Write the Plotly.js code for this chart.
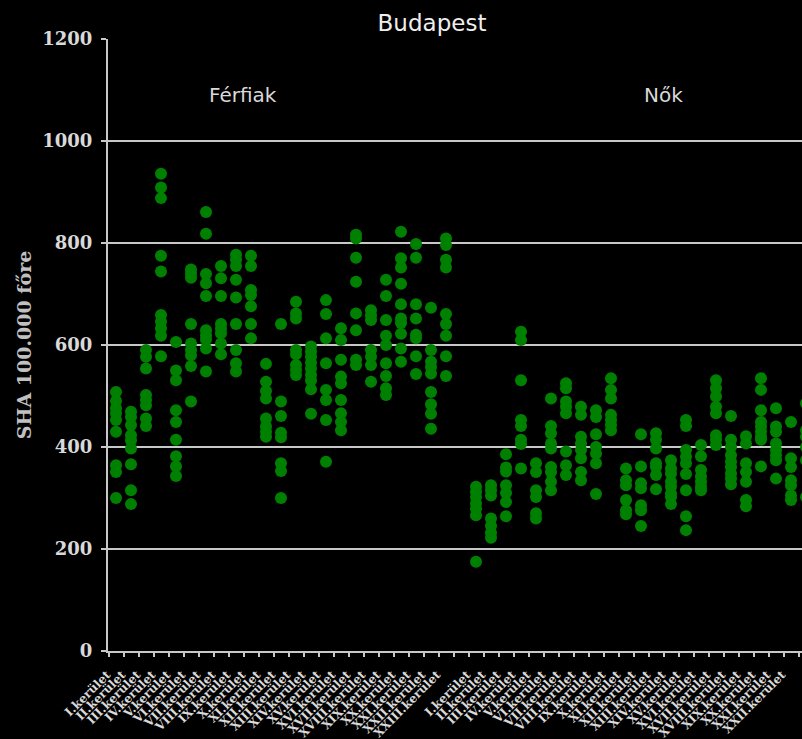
<!DOCTYPE html>
<html>
<head>
<meta charset="utf-8">
<script src="https://cdn.plot.ly/plotly-3.0.1.min.js"></script>
<style>
html,body{margin:0;padding:0;background:#000;}
#chart{width:802px;height:739px;}
</style>
</head>
<body>
<div id="chart"></div>
<script>
const districts = ['I.kerület','II.kerület','III.kerület','IV.kerület','V.kerület','VI.kerület','VII.kerület','VIII.kerület','IX.kerület','X.kerület','XI.kerület','XII.kerület','XIII.kerület','XIV.kerület','XV.kerület','XVI.kerület','XVII.kerület','XVIII.kerület','XIX.kerület','XX.kerület','XXI.kerület','XXII.kerület','XXIII.kerület'];

// Férfiak (men), values per district
const ferfiak = [
  [508, 490, 476, 466, 453, 430, 364, 351, 300],
  [469, 459, 443, 423, 413, 397, 366, 315, 288],
  [590, 577, 554, 502, 492, 482, 456, 441],
  [936, 909, 888, 775, 744, 659, 646, 633, 618, 578],
  [606, 550, 531, 472, 449, 414, 382, 362, 343],
  [748, 740, 732, 641, 603, 590, 580, 559, 489],
  [861, 818, 739, 721, 696, 629, 619, 611, 593, 548],
  [755, 731, 696, 641, 632, 623, 603, 582],
  [777, 767, 755, 728, 693, 641, 590, 564, 548],
  [775, 755, 708, 698, 676, 641, 613],
  [563, 528, 510, 495, 456, 440, 430, 420],
  [641, 489, 461, 428, 419, 368, 353, 300],
  [685, 662, 652, 590, 582, 561, 551, 541],
  [597, 587, 577, 565, 554, 541, 531, 513, 465],
  [688, 661, 613, 564, 512, 492, 453, 371],
  [633, 610, 571, 538, 525, 492, 466, 449, 433],
  [816, 809, 771, 724, 662, 629, 571, 561],
  [668, 658, 649, 590, 577, 561, 528],
  [728, 696, 649, 618, 600, 564, 539, 515, 502],
  [822, 770, 752, 720, 680, 652, 643, 622, 593, 567],
  [798, 771, 680, 652, 620, 613, 578, 543],
  [673, 590, 567, 557, 544, 508, 484, 465, 436],
  [809, 796, 767, 752, 661, 641, 618, 578, 539]
];

// Nők (women), values per district
const nok = [
  [322, 312, 302, 289, 279, 266, 175],
  [325, 315, 305, 260, 245, 232, 222],
  [386, 360, 352, 325, 310, 292, 264],
  [626, 610, 531, 453, 441, 414, 406, 358],
  [368, 351, 315, 302, 270, 260],
  [495, 441, 427, 407, 397, 361, 351, 332, 315],
  [525, 515, 489, 479, 466, 391, 364, 345],
  [479, 463, 420, 407, 394, 378, 351, 335],
  [472, 459, 425, 400, 387, 368, 308],
  [535, 512, 495, 463, 453, 443, 433],
  [358, 335, 325, 296, 276, 268],
  [425, 362, 329, 319, 286, 276, 245],
  [427, 414, 397, 368, 361, 345, 317],
  [374, 358, 348, 332, 322, 309, 302, 288],
  [453, 441, 394, 381, 368, 347, 315, 264, 237],
  [404, 382, 355, 342, 332, 322, 315],
  [531, 515, 499, 479, 466, 423, 414, 404],
  [461, 414, 400, 384, 371, 361, 348, 338, 327],
  [421, 407, 368, 351, 332, 296, 284],
  [535, 512, 472, 449, 440, 430, 420, 414, 362],
  [476, 440, 430, 407, 394, 384, 374, 338],
  [449, 378, 361, 335, 325, 305, 296],
  [486, 433, 420, 400, 374, 302]
];

const groupLabels = ['Férfiak', 'Nők'];
const womenOffset = districts.length + 1; // one empty slot between the groups

const xs = [], ys = [];
ferfiak.forEach((vals, i) => vals.forEach(v => { xs.push(i); ys.push(v); }));
nok.forEach((vals, i) => vals.forEach(v => { xs.push(womenOffset + i); ys.push(v); }));

const tickvals = [], ticktext = [];
districts.forEach((d, i) => { tickvals.push(i); ticktext.push(d); });
districts.forEach((d, i) => { tickvals.push(womenOffset + i); ticktext.push(d); });
const nSlots = womenOffset + districts.length;
const boundaries = [];
for (let k = 0; k <= nSlots; k++) boundaries.push(k - 0.5);

const xr = [-0.533, 45.733];
const lineCol = '#c8c8c8';
const textCol = '#d9d9d9';
const serif = 'DejaVu Serif, Liberation Serif, serif';
const sans = 'DejaVu Sans, Open Sans, sans-serif';

const traces = [{
  type: 'scatter', mode: 'markers', x: xs, y: ys,
  marker: {color: '#008000', size: 12},
  hoverinfo: 'y', showlegend: false
}, {
  type: 'scatter', mode: 'markers', x: [], y: [], xaxis: 'x2', yaxis: 'y',
  showlegend: false, hoverinfo: 'skip'
}];

const layout = {
  width: 802, height: 739,
  paper_bgcolor: '#000', plot_bgcolor: '#000',
  margin: {l: 108, r: 0, t: 39, b: 88, pad: 0},
  title: {text: 'Budapest', font: {family: sans, size: 23, color: '#eeeeee'},
          xref: 'container', x: 432/802, xanchor: 'center',
          yref: 'container', y: 1 - 23/739, yanchor: 'middle'},
  showlegend: false,
  xaxis: {
    type: 'linear', range: xr, tickmode: 'array', tickvals: tickvals, ticktext: ticktext,
    tickangle: -45, ticks: '', showgrid: false, zeroline: false,
    showline: true, linecolor: lineCol, linewidth: 2,
    ticklabelstandoff: 10, ticklabelshift: -9,
    tickfont: {family: serif, size: 12, color: textCol, weight: 700},
    fixedrange: true
  },
  xaxis2: {
    type: 'linear', range: xr, overlaying: 'x', anchor: 'y', side: 'bottom',
    tickmode: 'array', tickvals: boundaries, ticks: 'outside', ticklen: 5,
    tickwidth: 2, tickcolor: lineCol, showticklabels: false,
    showgrid: false, zeroline: false, showline: false, fixedrange: true
  },
  yaxis: {
    range: [0, 1200], tickmode: 'array', tickvals: [0, 200, 400, 600, 800, 1000, 1200],
    ticks: 'outside', ticklen: 5, tickwidth: 2, tickcolor: lineCol,
    showgrid: true, gridcolor: lineCol, gridwidth: 2, zeroline: false,
    showline: true, linecolor: lineCol, linewidth: 2,
    ticklabelstandoff: 5,
    tickfont: {family: serif, size: 18, color: textCol, weight: 700},
    title: {text: 'SHA 100.000 főre', font: {family: serif, size: 19, color: '#c0c0c0', weight: 700}, standoff: 6},
    automargin: false, fixedrange: true
  },
  annotations: [
    {text: groupLabels[0], xref: 'paper', yref: 'paper', x: (243 - 108) / 694, y: 1 - (95 - 39) / 612,
     showarrow: false, font: {family: sans, size: 20, color: textCol}, xanchor: 'center', yanchor: 'middle'},
    {text: groupLabels[1], xref: 'paper', yref: 'paper', x: (663 - 108) / 694, y: 1 - (95 - 39) / 612,
     showarrow: false, font: {family: sans, size: 20, color: textCol}, xanchor: 'center', yanchor: 'middle'}
  ]
};

Plotly.newPlot('chart', traces, layout, {displayModeBar: false, staticPlot: true});
</script>
</body>
</html>
